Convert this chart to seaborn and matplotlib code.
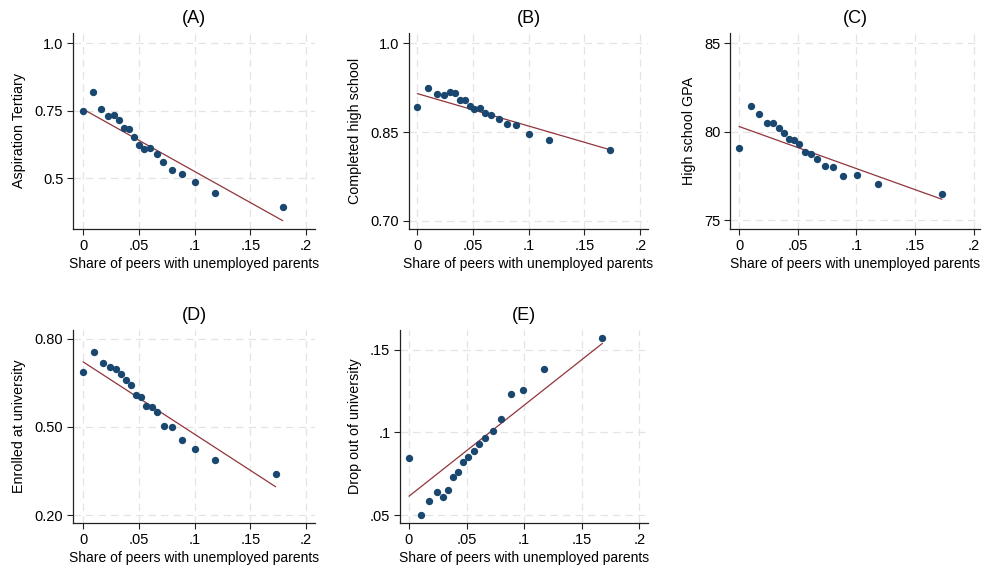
import numpy as np
import pandas as pd
import matplotlib
matplotlib.use("Agg")
import matplotlib.pyplot as plt
import seaborn as sns

# binned share of peers with unemployed parents (x) and outcomes (y)
x_a = [0.0, 0.009, 0.016, 0.0225, 0.028, 0.0326, 0.0368, 0.041, 0.0455, 0.050,
       0.0548, 0.060, 0.0659, 0.072, 0.0796, 0.0883, 0.100, 0.1186, 0.179]
y_a = [0.748, 0.819, 0.757, 0.730, 0.736, 0.715, 0.686, 0.684, 0.653, 0.622,
       0.609, 0.612, 0.588, 0.559, 0.532, 0.516, 0.486, 0.446, 0.394]
fit_a = [0.756, 0.343]

x_b = [0.0, 0.0099, 0.0174, 0.024, 0.029, 0.0338, 0.0383, 0.0425, 0.047, 0.0512,
       0.056, 0.0608, 0.0665, 0.073, 0.0802, 0.0886, 0.100, 0.1183, 0.173]
y_b = [0.893, 0.925, 0.914, 0.913, 0.918, 0.916, 0.904, 0.904, 0.8935, 0.889,
       0.891, 0.883, 0.879, 0.8726, 0.864, 0.8624, 0.847, 0.836, 0.819]
fit_b = [0.915, 0.820]

x_c = [0.0, 0.0099, 0.0173, 0.0239, 0.0293, 0.0341, 0.0384, 0.0426, 0.0472, 0.0514,
       0.056, 0.0611, 0.0668, 0.073, 0.0801, 0.0889, 0.1003, 0.1188, 0.173]
y_c = [79.11, 81.47, 81.02, 80.47, 80.47, 80.23, 79.91, 79.60, 79.55, 79.32,
       78.87, 78.75, 78.45, 78.04, 78.02, 77.51, 77.57, 77.04, 76.49]
fit_c = [80.30, 76.19]

x_d = [0.0, 0.0102, 0.0177, 0.0243, 0.0294, 0.0342, 0.0384, 0.0429, 0.0471, 0.0516,
       0.0561, 0.0615, 0.0666, 0.0729, 0.0801, 0.0888, 0.1002, 0.1187, 0.1727]
y_d = [0.687, 0.755, 0.716, 0.702, 0.698, 0.678, 0.661, 0.641, 0.609, 0.602,
       0.572, 0.568, 0.550, 0.503, 0.499, 0.454, 0.424, 0.389, 0.341]
fit_d = [0.721, 0.297]

x_e = [0.0, 0.0101, 0.0177, 0.024, 0.0292, 0.0339, 0.0382, 0.0423, 0.0466, 0.0512,
       0.0561, 0.0611, 0.0663, 0.0726, 0.0799, 0.0883, 0.099, 0.1169, 0.1679]
y_e = [0.0843, 0.0503, 0.0583, 0.0642, 0.0612, 0.0652, 0.0728, 0.0759, 0.0823, 0.0849,
       0.0887, 0.0932, 0.0966, 0.1006, 0.1083, 0.1231, 0.1255, 0.1383, 0.1568]
fit_e = [0.0614, 0.1538]

titles = ["(A)", "(B)", "(C)", "(D)", "(E)"]
ylabels = ["Aspiration Tertiary", "Completed high school", "High school GPA",
           "Enrolled at university", "Drop out of university"]
yticks = [[0.5, 0.75, 1.0], [0.70, 0.85, 1.0], [75, 80, 85],
          [0.20, 0.50, 0.80], [0.05, 0.10, 0.15]]
ytick_labels = [["0.5", "0.75", "1.0"], ["0.70", "0.85", "1.0"], ["75", "80", "85"],
                ["0.20", "0.50", "0.80"], [".05", ".1", ".15"]]
xticks = [0, 0.05, 0.1, 0.15, 0.2]
xtick_labels = ["0", ".05", ".1", ".15", ".2"]
xlabel = "Share of peers with unemployed parents"

sns.set_theme(style="ticks")
plt.rcParams['font.family'] = ['Liberation Sans', 'DejaVu Sans']
plt.rcParams['text.color'] = 'black'
plt.rcParams['axes.labelcolor'] = 'black'
plt.rcParams['xtick.color'] = 'black'
plt.rcParams['ytick.color'] = 'black'

navy = "#1a476f"
maroon = "#90353b"

fig = plt.figure(figsize=(9.85, 5.68), dpi=100)
W, H = 985, 568

# axes boxes in pixels: left, right, top, bottom
boxes = [(73, 315, 33, 229), (409, 648, 33, 229), (730, 980, 33, 229),
         (73, 315, 330, 523), (400, 648, 330, 523)]
xlims = [(-0.009, 0.208), (-0.0075, 0.207), (-0.0077, 0.2055),
         (-0.009, 0.208), (-0.0078, 0.2075)]
ylims = [(0.312, 1.038), (0.686, 1.0175), (74.51, 85.58),
         (0.174, 0.829), (0.0452, 0.1619)]

panels = [(x_a, y_a, fit_a), (x_b, y_b, fit_b), (x_c, y_c, fit_c),
          (x_d, y_d, fit_d), (x_e, y_e, fit_e)]

for i, (xs, ys, fit) in enumerate(panels):
    l, r, t, b = boxes[i]
    ax = fig.add_axes([l / W, 1 - b / H, (r - l) / W, (b - t) / H])
    df = pd.DataFrame({"x": xs, "y": ys})
    fit_df = pd.DataFrame({"x": [xs[0], xs[-1]], "y": fit})
    for v in xticks:
        ax.axvline(v, color="#e4e4e4", lw=0.9, ls=(0, (6, 4)), zorder=0)
    for v in yticks[i]:
        ax.axhline(v, color="#e4e4e4", lw=0.9, ls=(0, (6, 4)), zorder=0)
    sns.lineplot(data=fit_df, x="x", y="y", ax=ax, color=maroon, lw=0.9, zorder=2)
    sns.scatterplot(data=df, x="x", y="y", ax=ax, color=navy, s=28,
                    edgecolor=navy, linewidth=0, zorder=3)
    ax.set_xlim(*xlims[i])
    ax.set_ylim(*ylims[i])
    ax.set_xticks(xticks)
    ax.set_xticklabels(xtick_labels)
    ax.set_yticks(yticks[i])
    ax.set_yticklabels(ytick_labels[i])
    ax.tick_params(axis="both", labelsize=10.5, length=4, width=0.8,
                   color="#222222", pad=3)
    ax.set_xlabel(xlabel, fontsize=10, labelpad=3)
    ax.set_ylabel(ylabels[i], fontsize=10.3, labelpad=6)
    ax.set_title(titles[i], fontsize=13, pad=7)
    sns.despine(ax=ax)
    for s in ["left", "bottom"]:
        ax.spines[s].set_linewidth(0.9)
        ax.spines[s].set_color("#222222")

fig.savefig("out.png", dpi=100, facecolor="white")
